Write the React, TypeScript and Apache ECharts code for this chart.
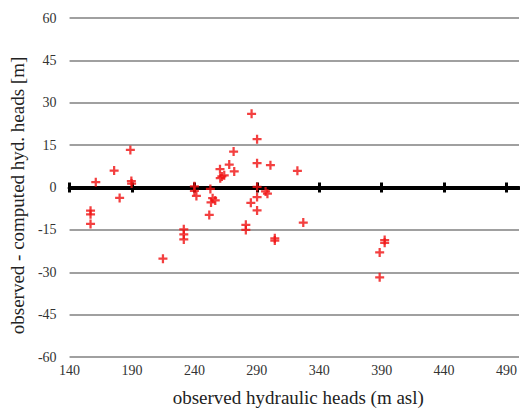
import React, { useEffect, useRef } from "react";
import * as echarts from "echarts";

const obsHeads = [
  156.8, 156.8, 156.8, 161.0, 175.7, 180.1, 188.7, 189.5, 189.7, 214.8,
  231.5, 231.5, 231.5, 240.0, 240.0, 241.6, 251.9, 252.8, 253.3, 254.6,
  256.7, 260.5, 260.7, 262.0, 263.9, 267.9, 271.4, 271.9, 281.2, 281.2,
  285.2, 285.8, 290.2, 290.2, 290.2, 290.2, 290.2, 297.0, 298.5, 300.9,
  304.4, 304.4, 322.5, 327.2, 388.4, 388.4, 392.4, 392.4,
];
const residuals = [
  -8.2, -9.5, -12.9, 1.9, 6.0, -3.7, 13.3, 2.3, 1.4, -25.2,
  -14.8, -16.6, -18.4, 0.4, -1.2, -3.0, -9.7, -0.5, -5.3, -3.8,
  -4.6, 6.5, 3.3, 3.9, 4.3, 8.1, 12.7, 5.7, -13.2, -15.0,
  -5.4, 26.1, 17.1, 8.6, 0.2, -3.4, -8.1, -1.4, -2.2, 7.9,
  -18.0, -18.8, 5.9, -12.4, -23.0, -31.8, -18.6, -19.6,
];
const xTicks = [140, 190, 240, 290, 340, 390, 440, 490];
const yTicks = [-60, -45, -30, -15, 0, 15, 30, 45, 60];

const FONT = "'Liberation Serif', 'DejaVu Serif', serif";
const PLUS = "path://M3,0H5V3H8V5H5V8H3V5H0V3H3Z";

export default function App() {
  const ref = useRef<HTMLDivElement>(null);
  useEffect(() => {
    if (!ref.current) return;
    const chart = echarts.init(ref.current, undefined, { renderer: "svg" });
    const xBase = { type: "value" as const, min: 140, max: 500, interval: 50 };
    chart.setOption({
      animation: false,
      backgroundColor: "#ffffff",
      grid: { left: 68, right: 1, top: 18, bottom: 55 },
      xAxis: [
        {
          ...xBase,
          position: "bottom",
          axisLine: { show: false, onZero: false },
          axisTick: { show: false },
          splitLine: { show: false },
          axisLabel: {
            customValues: xTicks,
            color: "#333",
            fontFamily: FONT,
            fontSize: 14,
            margin: 6,
          },
          name: "observed hydraulic heads (m asl)",
          nameLocation: "middle",
          nameGap: 31,
          nameTextStyle: { fontFamily: FONT, fontSize: 19, color: "#222", padding: [0, 0, 0, 8] },
        },
        {
          ...xBase,
          position: "bottom",
          axisLine: { show: true, onZero: true, onZeroAxisIndex: 0, lineStyle: { color: "#000", width: 4 } },
          axisTick: { show: true, customValues: xTicks, length: 5, inside: false, lineStyle: { color: "#000", width: 3 } },
          axisLabel: { show: false },
          splitLine: { show: false },
        },
        {
          ...xBase,
          position: "bottom",
          axisLine: { show: false, onZero: true, onZeroAxisIndex: 0 },
          axisTick: { show: true, customValues: xTicks, length: 5, inside: true, lineStyle: { color: "#000", width: 3 } },
          axisLabel: { show: false },
          splitLine: { show: false },
        },
      ],
      yAxis: {
        type: "value",
        min: yTicks[0],
        max: yTicks[yTicks.length - 1],
        interval: 15,
        axisLine: { show: false },
        axisTick: { show: false },
        splitLine: { show: true, lineStyle: { color: "#808080", width: 1.5, type: "solid" } },
        axisLabel: { color: "#333", fontFamily: FONT, fontSize: 14, margin: 13 },
        name: "observed - computed hyd. heads [m]",
        nameLocation: "middle",
        nameGap: 37,
        nameTextStyle: { fontFamily: FONT, fontSize: 19, color: "#222", padding: [0, 16, 0, 0] },
      },
      series: [
        {
          type: "scatter",
          xAxisIndex: 0,
          data: obsHeads.map((x, i) => [x, residuals[i]]),
          symbol: PLUS,
          symbolSize: 9,
          itemStyle: { color: "#f01010" },
          z: 5,
        },
      ],
    });
    return () => chart.dispose();
  }, []);
  return (
    <div
      ref={ref}
      style={{ position: "absolute", left: 0, top: 0, width: 520, height: 412 }}
    />
  );
}
